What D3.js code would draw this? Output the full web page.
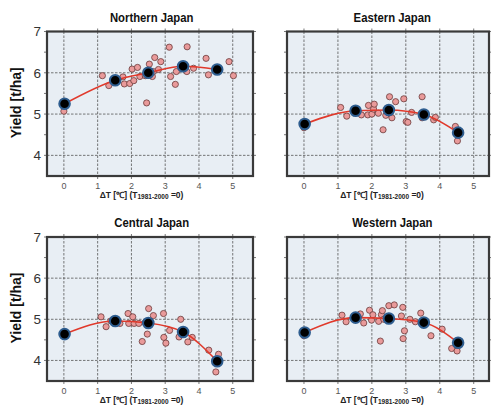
<!DOCTYPE html>
<html lang="en">
<head>
<meta charset="utf-8">
<title>Yield vs temperature rise, four regions of Japan</title>
<script src="https://cdnjs.cloudflare.com/ajax/libs/d3/7.8.0/d3.min.js"></script>
<style>
  body { margin: 0; background: #fff; }
  svg { display: block; font-family: "Liberation Sans", Arial, sans-serif; }
  .title { font-size: 13px; font-weight: bold; fill: #111; }
  .ytick { font-size: 13.5px; fill: #333; }
  .xtick { font-size: 9px; fill: #555; }
  .xlabel { font-size: 8.5px; font-weight: bold; fill: #222; }
  .ylabel { font-size: 14px; font-weight: bold; fill: #111; }
  .grid line { stroke: #555; stroke-width: 0.8; stroke-dasharray: 2.5,1.5; }
</style>
</head>
<body>
<div id="chart"></div>
<script>
// Region titles
var regionNames = ["Northern Japan", "Eastern Japan", "Central Japan", "Western Japan"];

// dT of the five mean points (same for all regions)
var meanDT = [0.02, 1.52, 2.5, 3.53, 4.54];

// mean yield per region [t/ha]
var northMean   = [5.25, 5.82, 6.00, 6.16, 6.08];
var eastMean    = [4.76, 5.08, 5.10, 4.99, 4.55];
var centralMean = [4.64, 4.96, 4.91, 4.69, 3.98];
var westMean    = [4.68, 5.04, 5.02, 4.92, 4.43];

// individual projections [dT, yield]
var northSamples = [
  [0.0, 5.07], [1.14, 5.93], [1.33, 5.69], [1.75, 5.90], [1.79, 5.73], [1.95, 5.74],
  [2.02, 6.09], [2.07, 5.81], [2.18, 6.13], [2.25, 5.91], [2.41, 5.93], [2.45, 5.27],
  [2.53, 6.21], [2.62, 5.91], [2.65, 6.03], [2.69, 6.37], [2.80, 6.08], [2.87, 6.27],
  [3.12, 6.62], [3.16, 5.91], [3.30, 5.72], [3.33, 6.03], [3.65, 6.63], [3.64, 6.03],
  [3.84, 6.11], [4.21, 6.35], [4.28, 5.95], [4.89, 6.27], [5.02, 5.93]
];
var eastSamples = [
  [0.0, 4.67], [1.08, 5.16], [1.26, 4.95], [1.69, 4.98], [1.88, 4.98], [1.90, 5.21],
  [2.00, 5.00], [2.05, 5.12], [2.07, 5.24], [2.19, 5.02], [2.33, 4.62], [2.41, 4.97],
  [2.52, 5.42], [2.59, 4.91], [2.70, 5.30], [2.94, 5.37], [3.01, 4.82], [3.06, 4.80],
  [3.17, 5.04], [3.48, 5.42], [3.48, 4.91], [3.82, 4.86], [3.87, 4.92], [4.46, 4.70],
  [4.48, 4.57], [4.52, 4.35], [4.61, 4.57]
];
var centralSamples = [
  [0.0, 4.62], [1.10, 5.06], [1.25, 4.82], [1.39, 4.96], [1.66, 4.90], [1.90, 5.14],
  [1.92, 4.90], [2.04, 5.06], [2.08, 4.90], [2.22, 4.90], [2.32, 4.46], [2.41, 4.92],
  [2.47, 4.64], [2.51, 5.26], [2.65, 5.09], [2.95, 5.14], [2.96, 4.56], [3.02, 4.42],
  [3.13, 4.73], [3.46, 5.00], [3.41, 4.57], [3.67, 4.45], [3.80, 4.56], [4.29, 4.25],
  [4.58, 4.15], [4.50, 3.72]
];
var westSamples = [
  [0.0, 4.60], [1.12, 5.10], [1.24, 4.94], [1.66, 5.13], [1.76, 4.91], [1.93, 5.22],
  [1.99, 4.98], [2.03, 5.11], [2.20, 4.95], [2.25, 4.47], [2.28, 5.11], [2.31, 5.21],
  [2.35, 5.00], [2.50, 5.33], [2.66, 5.35], [2.91, 5.29], [2.87, 5.08], [2.96, 4.72],
  [2.92, 4.53], [3.12, 5.00], [3.28, 4.94], [3.44, 5.15], [3.48, 4.92], [3.74, 4.60],
  [4.07, 4.76], [4.35, 4.29], [4.51, 4.23]
];

var xTicks = [0, 1, 2, 3, 4, 5];
var yTicks = [4, 5, 6, 7];
var yDomain = [3.5, 7];
var yLabelText = "Yield [t/ha]";

var W = 491, H = 405;

var svg = d3.select("#chart").append("svg")
    .attr("width", W)
    .attr("height", H);

// frame positions of the four panels
var panels = [
  { name: regionNames[0], mean: northMean,   samples: northSamples,   left: 47, right: 253, top: 31.5, bottom: 176, xMax: 5.6,  showY: true },
  { name: regionNames[1], mean: eastMean,    samples: eastSamples,    left: 287, right: 489, top: 31.5, bottom: 176, xMax: 5.45, showY: false },
  { name: regionNames[2], mean: centralMean, samples: centralSamples, left: 47, right: 253, top: 237, bottom: 381, xMax: 5.6,  showY: true },
  { name: regionNames[3], mean: westMean,    samples: westSamples,    left: 287, right: 489, top: 237, bottom: 381, xMax: 5.45, showY: false }
];

panels.forEach(function(p) {
  var x = d3.scaleLinear().domain([-0.5, p.xMax]).range([p.left, p.right]);
  var y = d3.scaleLinear().domain(yDomain).range([p.bottom, p.top]);
  var g = svg.append("g");

  // background
  g.append("rect")
    .attr("x", p.left).attr("y", p.top)
    .attr("width", p.right - p.left).attr("height", p.bottom - p.top)
    .attr("fill", "#e8eef4");

  // dashed grid
  var grid = g.append("g").attr("class", "grid");
  grid.selectAll(".gx").data(xTicks).enter().append("line")
    .attr("x1", function(d) { return x(d); }).attr("x2", function(d) { return x(d); })
    .attr("y1", p.top).attr("y2", p.bottom);
  grid.selectAll(".gy").data(yTicks.filter(function(d) { return d < 7; })).enter().append("line")
    .attr("x1", p.left).attr("x2", p.right)
    .attr("y1", function(d) { return y(d); }).attr("y2", function(d) { return y(d); });

  // outward tick marks on all sides
  var halfTicks = d3.range(yDomain[0] + 0.5, yDomain[1] + 0.01, 0.5);
  var ticks = g.append("g").attr("stroke", "#555").attr("stroke-width", 0.8);
  ticks.selectAll(".tt").data(xTicks).enter().append("line")
    .attr("x1", function(d) { return x(d); }).attr("x2", function(d) { return x(d); })
    .attr("y1", p.top - 3).attr("y2", p.top);
  ticks.selectAll(".tb").data(xTicks).enter().append("line")
    .attr("x1", function(d) { return x(d); }).attr("x2", function(d) { return x(d); })
    .attr("y1", p.bottom).attr("y2", p.bottom + 3);
  ticks.selectAll(".tl").data(halfTicks).enter().append("line")
    .attr("x1", p.left - 3).attr("x2", p.left)
    .attr("y1", function(d) { return y(d); }).attr("y2", function(d) { return y(d); });
  ticks.selectAll(".tr").data(halfTicks).enter().append("line")
    .attr("x1", p.right).attr("x2", p.right + 3)
    .attr("y1", function(d) { return y(d); }).attr("y2", function(d) { return y(d); });

  // sample points
  g.selectAll(".pt").data(p.samples).enter().append("circle")
    .attr("cx", function(d) { return x(d[0]); })
    .attr("cy", function(d) { return y(d[1]); })
    .attr("r", 3.1)
    .attr("fill", "#e99a9a")
    .attr("stroke", "#6b3b3b")
    .attr("stroke-width", 0.8);

  // red curve through the means
  var meanPts = meanDT.map(function(d, i) { return [d, p.mean[i]]; });
  var line = d3.line()
    .x(function(d) { return x(d[0]); })
    .y(function(d) { return y(d[1]); })
    .curve(d3.curveMonotoneX);
  g.append("path")
    .datum(meanPts)
    .attr("d", line)
    .attr("fill", "none")
    .attr("stroke", "#e0392b")
    .attr("stroke-width", 1.6);

  // mean points
  g.selectAll(".mn").data(meanPts).enter().append("circle")
    .attr("cx", function(d) { return x(d[0]); })
    .attr("cy", function(d) { return y(d[1]); })
    .attr("r", 5.3)
    .attr("fill", "#000")
    .attr("stroke", "#2e5d8f")
    .attr("stroke-width", 2);

  // frame
  g.append("rect")
    .attr("x", p.left).attr("y", p.top)
    .attr("width", p.right - p.left).attr("height", p.bottom - p.top)
    .attr("fill", "none")
    .attr("stroke", "#3a3a3a")
    .attr("stroke-width", 2.2);

  // title (narrow bold)
  g.append("text")
    .attr("class", "title")
    .attr("text-anchor", "middle")
    .attr("transform", "translate(" + x(2.6) + "," + (p.top - 10) + ") scale(0.87,1)")
    .text(p.name);

  // x tick labels
  g.selectAll(".xt").data(xTicks).enter().append("text")
    .attr("class", "xtick")
    .attr("text-anchor", "middle")
    .attr("x", function(d) { return x(d); })
    .attr("y", p.bottom + 12.5)
    .text(function(d) { return d; });

  // x axis label with subscript
  var xl = g.append("text")
    .attr("class", "xlabel")
    .attr("text-anchor", "middle")
    .attr("x", x(2.3))
    .attr("y", p.bottom + 21.5);
  xl.append("tspan").text("\u0394T [\u2103] (T");
  xl.append("tspan").attr("font-size", "6.5px").attr("dy", 1.5).text("1981-2000");
  xl.append("tspan").attr("dy", -1.5).text(" =0)");

  if (p.showY) {
    g.selectAll(".yt").data(yTicks).enter().append("text")
      .attr("class", "ytick")
      .attr("text-anchor", "end")
      .attr("x", p.left - 6)
      .attr("y", function(d) { return y(d); })
      .attr("dy", "0.36em")
      .text(function(d) { return d; });

    g.append("text")
      .attr("class", "ylabel")
      .attr("text-anchor", "middle")
      .attr("transform", "translate(21," + ((p.top + p.bottom) / 2 - 1) + ") rotate(-90)")
      .text(yLabelText);
  }
});
</script>
</body>
</html>
